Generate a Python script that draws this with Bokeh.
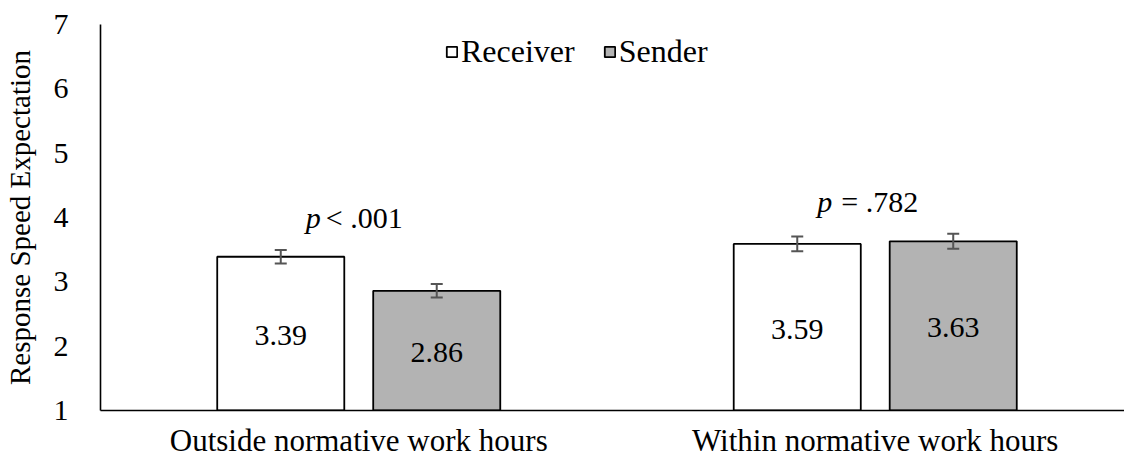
from bokeh.plotting import figure
from bokeh.models import (Range1d, FixedTicker, ColumnDataSource, Whisker, TeeHead,
                          Legend, LegendItem)
from bokeh.core.properties import value
from bokeh.embed import file_html
from bokeh.resources import INLINE

# ---- data ----
categories = ["Outside normative work hours", "Within normative work hours"]
series = ["Receiver", "Sender"]
receiver = [3.39, 3.59]
sender = [2.86, 3.63]
receiver_err = [0.105, 0.115]
sender_err = [0.105, 0.117]
p_labels = [("p", "< .001"), ("p", "= .782")]
y_ticks = [1, 2, 3, 4, 5, 6, 7]

FONT = "'Liberation Serif', serif"
GRAY = "#b3b3b3"
ERR = "#555555"

centers = [i + 0.5 for i in range(len(categories))]
offset = 0.151
bw = 0.246

p = figure(width=1124, height=461, output_backend="svg", toolbar_location=None,
           x_range=Range1d(0, 1.9826), y_range=Range1d(1, 7),
           min_border_left=100, min_border_right=0, min_border_top=24, min_border_bottom=51)
p.outline_line_color = None
p.grid.visible = False
p.background_fill_color = "white"
p.border_fill_color = "white"

rx = [c - offset for c in centers]
sx = [c + offset for c in centers]

src_r = ColumnDataSource(dict(x=rx, top=receiver, lab=[f"{v:.2f}" for v in receiver],
                              mid=[(1 + v) / 2 for v in receiver],
                              upper=[v + e for v, e in zip(receiver, receiver_err)],
                              lower=[v - e for v, e in zip(receiver, receiver_err)]))
src_s = ColumnDataSource(dict(x=sx, top=sender, lab=[f"{v:.2f}" for v in sender],
                              mid=[(1 + v) / 2 for v in sender],
                              upper=[v + e for v, e in zip(sender, sender_err)],
                              lower=[v - e for v, e in zip(sender, sender_err)]))

r1 = p.vbar(x="x", top="top", bottom=1, width=bw, source=src_r,
            fill_color="white", line_color="black", line_width=1.8)
r2 = p.vbar(x="x", top="top", bottom=1, width=bw, source=src_s,
            fill_color=GRAY, line_color="black", line_width=1.8)

for src in (src_r, src_s):
    p.text(x="x", y="mid", text="lab", source=src, text_align="center",
           text_baseline="middle", text_font=value(FONT), text_font_size="30px",
           text_color="black", y_offset=2)
    w = Whisker(source=src, base="x", upper="upper", lower="lower",
                line_color=ERR, line_width=2, level="overlay",
                upper_head=TeeHead(size=12, line_color=ERR, line_width=2),
                lower_head=TeeHead(size=12, line_color=ERR, line_width=2))
    p.add_layout(w)

# p-value labels
ptop = [max(a + ea, b + eb) + 0.5 for a, ea, b, eb in zip(receiver, receiver_err, sender, sender_err)]
psrc = ColumnDataSource(dict(x=centers, y=ptop, a=[a for a, b in p_labels],
                             b=[b for a, b in p_labels], off=[-38, -43],
                             off2=[-33, -34]))
p.text(x="x", y="y", text="a", source=psrc, text_align="right",
       text_baseline="middle", x_offset="off", text_font=value(FONT),
       text_font_size="30px", text_font_style="italic", text_color="black")
p.text(x="x", y="y", text="b", source=psrc, text_align="left",
       text_baseline="middle", x_offset="off2", text_font=value(FONT),
       text_font_size="30px", text_color="black")

# axes
p.xaxis.ticker = FixedTicker(ticks=centers)
p.xaxis.major_label_overrides = {c: lab for c, lab in zip(centers, categories)}
p.yaxis.ticker = FixedTicker(ticks=y_ticks)
for ax in (p.xaxis[0], p.yaxis[0]):
    ax.major_tick_line_color = None
    ax.minor_tick_line_color = None
    ax.axis_line_color = "black"
    ax.axis_line_width = 1.6
    ax.major_label_text_font = FONT
    ax.major_label_text_color = "black"
p.xaxis.major_label_text_font_size = "31px"
p.yaxis.major_label_text_font_size = "30px"
p.xaxis.major_label_standoff = 6
p.yaxis.major_label_standoff = 26
p.yaxis.axis_label = "Response Speed Expectation"
p.yaxis.axis_label_text_font = FONT
p.yaxis.axis_label_text_font_size = "29px"
p.yaxis.axis_label_text_font_style = "normal"
p.yaxis.axis_label_text_color = "black"
p.yaxis.axis_label_standoff = 15

legend = Legend(items=[LegendItem(label=series[0], renderers=[r1]),
                       LegendItem(label=series[1], renderers=[r2])],
                location=(345, 340), orientation="horizontal",
                glyph_width=13, glyph_height=13, label_standoff=3, spacing=28,
                padding=0, margin=0, border_line_color=None,
                background_fill_alpha=0,
                label_text_font=FONT, label_text_font_size="32px",
                label_text_color="black")
p.add_layout(legend)

open("out.html", "w").write(file_html(p, INLINE))
